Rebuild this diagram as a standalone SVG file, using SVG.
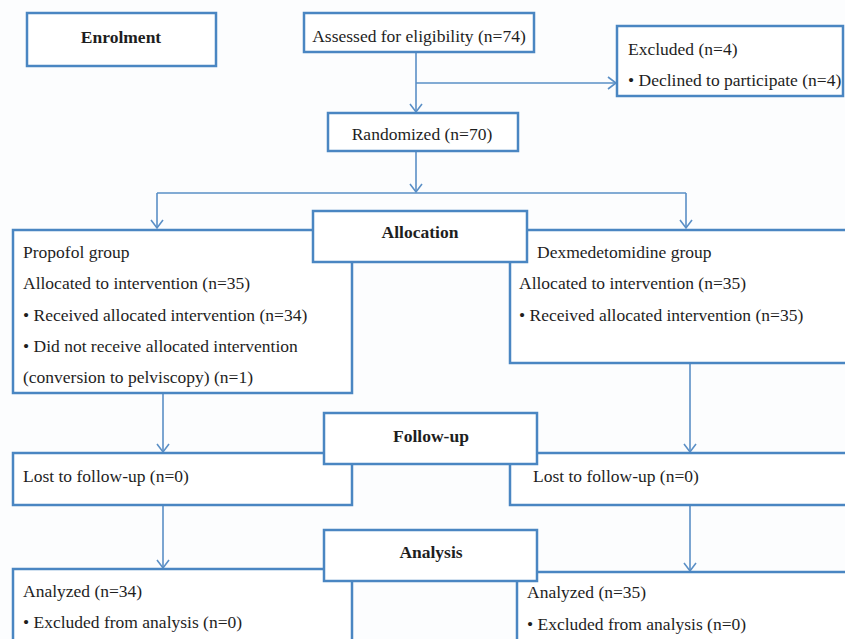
<svg xmlns="http://www.w3.org/2000/svg" width="845" height="639" viewBox="0 0 845 639">
<defs>
<style>
.box{fill:#ffffff;stroke:#4a86c2;stroke-width:2.5}
.ln{fill:none;stroke:#5a8fc6;stroke-width:1.6}
.t{font-family:'Liberation Serif','Times New Roman','DejaVu Serif',serif;font-size:17.5px;fill:#1e1e1e}
.b{font-weight:bold;text-anchor:middle}
.c{text-anchor:middle}
</style>
<marker id="ah" markerUnits="userSpaceOnUse" markerWidth="12" markerHeight="14" refX="9" refY="7" orient="auto" overflow="visible">
<path d="M1,1 L9,7 L1,13" fill="none" stroke="#5a8fc6" stroke-width="1.6"/>
</marker>
</defs>
<rect x="0" y="0" width="845" height="639" fill="#fcfdfe"/>
<g id="connectors">
<path class="ln" d="M416,52 V112" marker-end="url(#ah)"/>
<path class="ln" d="M416,83 H616" marker-end="url(#ah)"/>
<path class="ln" d="M416,151 V192" marker-end="url(#ah)"/>
<path class="ln" d="M157,193 H686"/>
<path class="ln" d="M157,193 V228" marker-end="url(#ah)"/>
<path class="ln" d="M686,193 V228" marker-end="url(#ah)"/>
<path class="ln" d="M163,393 V452" marker-end="url(#ah)"/>
<path class="ln" d="M690,363 V452" marker-end="url(#ah)"/>
<path class="ln" d="M163,505 V568" marker-end="url(#ah)"/>
<path class="ln" d="M690,505 V571" marker-end="url(#ah)"/>
</g>
<g id="enrolment">
<rect class="box" x="27" y="13" width="189" height="53"/>
<text class="t b" x="121" y="43" font-family="Liberation Serif, serif">Enrolment</text>
</g>
<g id="assessed">
<rect class="box" x="304" y="13" width="230" height="39"/>
<text class="t c" x="419" y="42">Assessed for eligibility (n=74)</text>
</g>
<g id="excluded">
<rect class="box" x="617" y="26" width="226" height="70"/>
<text class="t" x="628" y="55">Excluded (n=4)</text>
<text class="t" x="628" y="86">• Declined to participate (n=4)</text>
</g>
<g id="randomized">
<rect class="box" x="328" y="113" width="190" height="38"/>
<text class="t c" x="422" y="140">Randomized (n=70)</text>
</g>
<g id="propofol">
<rect class="box" x="13" y="230" width="339" height="163"/>
<text class="t" x="23" y="258">Propofol group</text>
<text class="t" x="23" y="289">Allocated to intervention (n=35)</text>
<text class="t" x="23" y="321">• Received allocated intervention (n=34)</text>
<text class="t" x="23" y="352">• Did not receive allocated intervention</text>
<text class="t" x="23" y="383">(conversion to pelviscopy) (n=1)</text>
</g>
<g id="dexmedetomidine">
<rect class="box" x="510" y="230" width="345" height="133"/>
<text class="t" x="537" y="258">Dexmedetomidine group</text>
<text class="t" x="519" y="289">Allocated to intervention (n=35)</text>
<text class="t" x="519" y="321">• Received allocated intervention (n=35)</text>
</g>
<g id="allocation">
<rect class="box" x="313" y="211" width="214" height="51"/>
<text class="t b" x="420" y="238">Allocation</text>
</g>
<g id="lost-left">
<rect class="box" x="13" y="453" width="339" height="52"/>
<text class="t" x="23" y="482">Lost to follow-up (n=0)</text>
</g>
<g id="lost-right">
<rect class="box" x="510" y="453" width="345" height="52"/>
<text class="t" x="533" y="482">Lost to follow-up (n=0)</text>
</g>
<g id="followup">
<rect class="box" x="324" y="413" width="213" height="51"/>
<text class="t b" x="431" y="442">Follow-up</text>
</g>
<g id="analyzed-left">
<rect class="box" x="13" y="569" width="339" height="90"/>
<text class="t" x="23" y="597">Analyzed (n=34)</text>
<text class="t" x="23" y="628">• Excluded from analysis (n=0)</text>
</g>
<g id="analyzed-right">
<rect class="box" x="517" y="572" width="338" height="90"/>
<text class="t" x="527" y="598">Analyzed (n=35)</text>
<text class="t" x="527" y="630">• Excluded from analysis (n=0)</text>
</g>
<g id="analysis">
<rect class="box" x="324" y="530" width="213" height="51"/>
<text class="t b" x="431" y="558">Analysis</text>
</g>
</svg>
